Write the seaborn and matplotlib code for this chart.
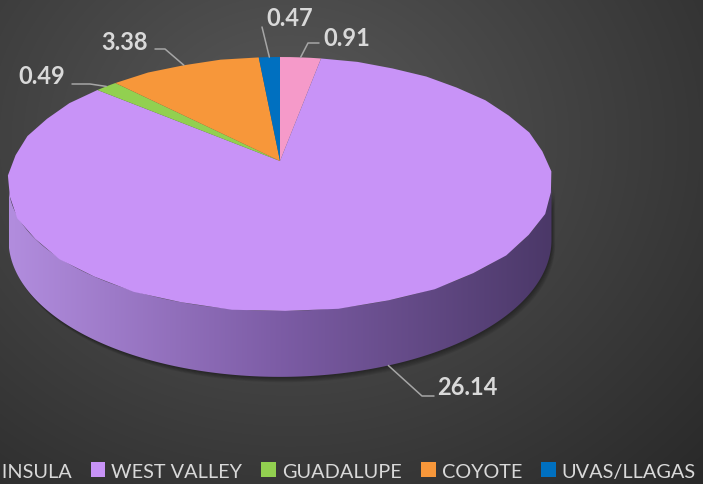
import numpy as np
import matplotlib
matplotlib.use("Agg")
import matplotlib.pyplot as plt
import seaborn as sns
from matplotlib.patches import Patch, Polygon
from matplotlib.path import Path
from matplotlib.transforms import Transform

# data
regions = ["PENINSULA", "WEST VALLEY", "GUADALUPE", "COYOTE", "UVAS/LLAGAS"]
values = [0.91, 26.14, 0.49, 3.38, 0.47]
colors = ["#F59AC9", "#C893F7", "#92D050", "#F7973A", "#0070C0"]

# label layout (pixel positions of text + elbow of leader line)
label_pos = [(323, 38), (437, 388), (18, 77), (101, 42), (266, 19)]
elbows = [[(308, 44), (319, 44)], [(422, 397), (434, 397)], [(90, 85), (72, 85)],
          [(165, 50), (155, 50)], [(262, 28)]]

# perspective of the pie top (pixel units)
CX, CY, A, B, K = 280, 162, 267, 122.8, 0.181
D = 54  # thickness


class Tilt(Transform):
    input_dims = output_dims = 2

    def transform_non_affine(self, xy):
        xy = np.asarray(xy, float)
        u, v = xy[:, 0], xy[:, 1]
        w = 1 + K * v
        return np.column_stack([CX + A * u / w, CY - B * v / w])

    def transform_path_non_affine(self, path):
        pts = np.vstack(path.to_polygons(closed_only=False))
        return Path(self.transform_non_affine(pts), closed=True)


sns.set_theme(style="white")
plt.rcParams['font.family'] = ['Lato', 'DejaVu Sans']

fig = plt.figure(figsize=(7.03, 4.85), dpi=100)
ax = fig.add_axes([0, 0, 1, 1])

# background
yy, xx = np.mgrid[0:485, 0:703]
r = np.sqrt(((xx - 290) / 520.0) ** 2 + ((yy - 140) / 440.0) ** 2)
bg = np.clip(0.35 - 0.17 * r, 0.16, 0.4)
ax.imshow(np.dstack([bg, bg, bg]), extent=(0, 703, 485, 0), aspect="auto", zorder=0)

tilt = Tilt()

# side of the pie
t0 = np.arcsin(K)
th = np.linspace(np.pi + t0, 2 * np.pi - t0, 200)
top = tilt.transform(np.column_stack([np.cos(th), np.sin(th)]))
drop = D / (1 + K * np.sin(th))
bot = top + np.column_stack([np.zeros_like(drop), drop])
side_pts = np.vstack([top, bot[::-1]])

for i in range(1, 7):
    ax.add_patch(Polygon(side_pts + [i * 0.6, i * 0.9], closed=True, facecolor="black",
                         edgecolor="none", alpha=0.07, zorder=1))
side = Polygon(side_pts, closed=True, facecolor="none", edgecolor="none", zorder=2)
ax.add_patch(side)
cmap = sns.blend_palette(["#B28DDE", "#7C5CA5", "#4B3868"], n_colors=256, as_cmap=True)
grad = np.tile(np.linspace(0, 1, 256), (10, 1))
im = ax.imshow(grad, extent=(top[:, 0].min(), top[:, 0].max(), 485, 0), aspect="auto",
               cmap=cmap, zorder=2)
im.set_clip_path(side)

# pie top
wedges, _ = ax.pie(values, colors=colors, startangle=90, counterclock=False,
                   wedgeprops=dict(linewidth=0))
for w in wedges:
    w.set_transform(tilt + ax.transData)
    w.set_zorder(3)

# data labels with leader lines
for w, v, (lx, ly), el in zip(wedges, values, label_pos, elbows):
    mid = np.deg2rad((w.theta1 + w.theta2) / 2)
    u, vv = np.cos(mid), np.sin(mid)
    px, py = tilt.transform(np.array([[u, vv]]))[0]
    if vv < 0:
        py += D / (1 + K * vv)
    pts = np.array([(px, py)] + el)
    ax.plot(pts[:, 0], pts[:, 1], color="#A6A6A6", lw=1.1, zorder=4)
    ax.text(lx, ly, f"{v:.2f}", ha="left", va="center", fontsize=17, fontweight="bold",
            color="#D9D9D9", zorder=5)

ax.set_aspect("auto")
ax.set_xlim(0, 703)
ax.set_ylim(485, 0)
ax.axis("off")

handles = [Patch(facecolor=c, edgecolor="none") for c in colors]
fig.legend(handles, regions, ncol=5, loc="center", bbox_to_anchor=(319 / 703, 1 - 472 / 485),
           frameon=False, fontsize=14.3, labelcolor="#D9D9D9", handlelength=0.75,
           handleheight=0.75, handletextpad=0.3, columnspacing=0.95)

fig.savefig("out.png", dpi=100)
